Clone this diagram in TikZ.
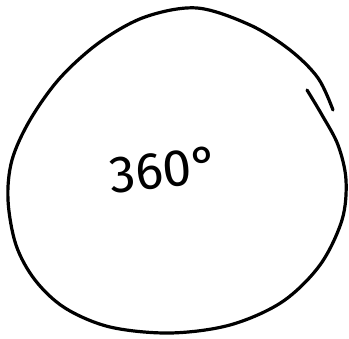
\documentclass[tikz,border=0pt]{standalone}
\usepackage{fontspec}
\setsansfont{Fira Sans}
\usetikzlibrary{positioning}

\begin{document}
\begin{tikzpicture}[
		x=1pt, y=-1pt,
		stroke/.style={draw, line width=3.2pt, line cap=round, line join=round},
		label/.style={font=\sffamily\fontsize{52}{52}\selectfont, rotate=6, inner sep=0pt}
	]
	\useasboundingbox (0,0) rectangle (349,339);

	% Hand-drawn loop (open near the upper right)
	\path [stroke] plot [smooth, tension=0.55] coordinates {
		(333,110) (318,78) (290,50) (250,25) (197,8) (145,17) (100,42)
		(60,78) (30,120) (12,160) (8,200) (16,245) (35,280) (65,308)
		(110,327) (170,333) (230,325) (282,302) (320,265) (342,220)
		(346,180) (338,145) (322,115) (307,90)};

	% Angle label
	\node [label] (angle) at (164,170) {360°};

\end{tikzpicture}
\end{document}
